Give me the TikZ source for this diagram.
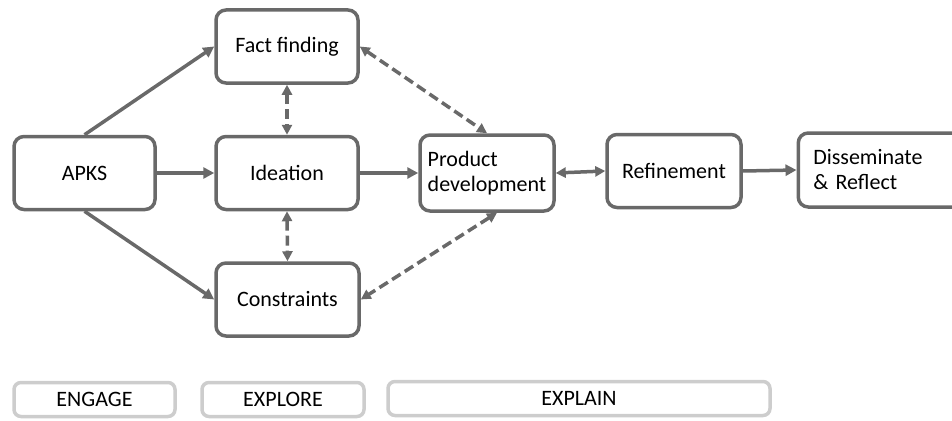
\documentclass[tikz,border=0pt]{standalone}
\usepackage{fontspec}
\setmainfont{Carlito}
\usepackage{tikz}
\definecolor{ln}{RGB}{105, 105, 105}
\definecolor{lt}{RGB}{205, 205, 205}
\usetikzlibrary{arrows.meta}

\begin{document}
\begin{tikzpicture}[x=1pt, y=-1pt,
  every node/.style={font=\fontsize{22}{25}\selectfont},
  box/.style={draw=ln, line width=3.5pt, rounded corners=10pt, fill=white, minimum height=73pt},
  phase/.style={draw=lt, line width=3.5pt, rounded corners=7pt, minimum height=34pt},
  link/.style={draw=ln, line width=3.5pt, -{Triangle[length=11pt, width=11pt]}},
  both/.style={draw=ln, line width=3.5pt, {Triangle[length=10pt, width=10pt]}-{Triangle[length=10pt, width=10pt]}},
  dashes/.style={dash pattern=on 10pt off 5pt}]
\useasboundingbox (0,0) rectangle (952,420);
\node (apks) [box, minimum width=141pt] at (84.5pt, -173pt) {APKS};
\node (fact) [box, minimum width=142pt] at (287pt, -46.5pt) {Fact finding};
\node (idea) [box, minimum width=142pt] at (287pt, -173pt) {Ideation};
\node (cons) [box, minimum width=143pt] at (287.5pt, -299.5pt) {Constraints};
\node (prod) [box, minimum width=134pt, minimum height=76pt, align=left] at (487pt, -173pt) {Product\\development};
\node (refine) [box, minimum width=134pt] at (674pt, -171pt) {Refinement};
\node (dissem) [box, anchor=west, text width=134pt, inner xsep=15pt, align=left, minimum height=74pt] at (796.5pt, -170pt) {Disseminate\\\& Reflect};
\node (engage) [phase, minimum width=161pt] at (94.5pt, -399.5pt) {ENGAGE};
\node (explore) [phase, minimum width=162pt] at (283pt, -399.5pt) {EXPLORE};
\node (explain) [phase, minimum width=382pt] at (579pt, -398.5pt) {EXPLAIN};
\draw [link] (apks.north) to (fact.west);
\draw [link] (apks.east) to (idea.west);
\draw [link] (apks.south) to (cons.west);
\draw [link] (idea.east) to (prod.west);
\draw [both] (prod.east) to (refine.west);
\draw [link] (refine.east) to (dissem.west);
\draw [both, dashes] (fact.south) to (idea.north);
\draw [both, dashes] (idea.south) to (cons.north);
\draw [both, dashes] (fact.east) to (prod.north);
\draw [both, dashes] ([xshift=10pt]prod.south) to (cons.east);
\end{tikzpicture}
\end{document}
